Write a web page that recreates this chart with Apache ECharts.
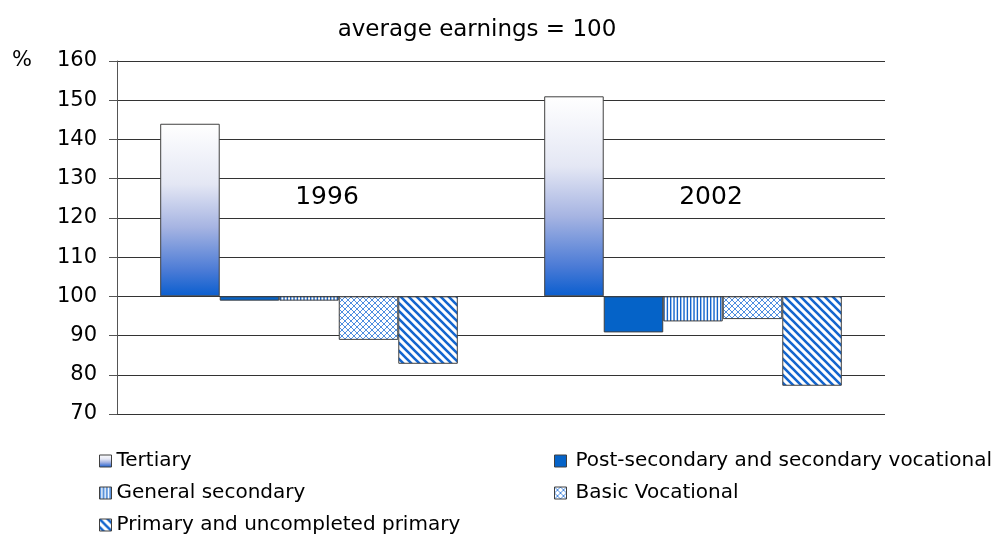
<!DOCTYPE html>
<html>
<head>
<meta charset="utf-8">
<script src="https://cdn.jsdelivr.net/npm/echarts@6/dist/echarts.min.js"></script>
<style>
html,body{margin:0;padding:0;background:#fff;}
#chart{width:1002px;height:537px;}
</style>
</head>
<body>
<div id="chart"></div>
<script>
// ---- data ----
var categories = ['1996', '2002'];
var seriesNames = ['Tertiary', 'Post-secondary and secondary vocational', 'General secondary', 'Basic Vocational', 'Primary and uncompleted primary'];
var tertiary = [144, 151];
var postSecondary = [98.9, 90.8];
var generalSecondary = [98.9, 93.6];
var basicVocational = [88.9, 94.2];
var primary = [82.8, 77.2];
var baseline = 100;
var yMin = 70, yMax = 160, yStep = 10;
var titleText = 'average earnings = 100';
var yUnit = '%';

// ---- patterns ----
function makeCanvas(w, h, draw) {
  var c = document.createElement('canvas');
  c.width = w; c.height = h;
  var ctx = c.getContext('2d');
  ctx.fillStyle = '#ffffff';
  ctx.fillRect(0, 0, w, h);
  draw(ctx, w, h);
  return c;
}
var vStripes = makeCanvas(10, 10, function (ctx) {
  ctx.fillStyle = '#1565cc';
  [0, 3.33, 6.67].forEach(function (x) { ctx.fillRect(x, 0, 1.4, 10); });
});
var crossHatch = makeCanvas(6, 6, function (ctx) {
  ctx.strokeStyle = '#4f8ee0';
  ctx.lineWidth = 1;
  ctx.beginPath();
  ctx.moveTo(-1, -1); ctx.lineTo(7, 7);
  ctx.moveTo(-1, 7); ctx.lineTo(7, -1);
  ctx.stroke();
});
var diagStripes = makeCanvas(8, 8, function (ctx) {
  ctx.strokeStyle = '#1466cf';
  ctx.lineWidth = 2.6;
  ctx.beginPath();
  ctx.moveTo(-1, -1); ctx.lineTo(9, 9);
  ctx.moveTo(-9, -1); ctx.lineTo(1, 9);
  ctx.moveTo(7, -1); ctx.lineTo(17, 9);
  ctx.stroke();
});

var fills = [
  new echarts.graphic.LinearGradient(0, 0, 0, 1, [
    {offset: 0, color: '#ffffff'},
    {offset: 0.35, color: '#e4e7f4'},
    {offset: 0.6, color: '#a6b4e2'},
    {offset: 0.85, color: '#4b7bd6'},
    {offset: 1, color: '#0a5ecf'}
  ]),
  '#0563c8',
  {image: vStripes, repeat: 'repeat'},
  {image: crossHatch, repeat: 'repeat'},
  {image: diagStripes, repeat: 'repeat'}
];
var values = [tertiary, postSecondary, generalSecondary, basicVocational, primary];

var FONT = 'DejaVu Sans';
var series = seriesNames.map(function (n, i) {
  return {
    name: n,
    type: 'bar',
    barGap: '0%',
    barCategoryGap: '22.5%',
    data: values[i].map(function (v) { return +(v - baseline).toFixed(2); }),
    itemStyle: {color: fills[i], borderColor: '#404040', borderWidth: 1},
    emphasis: {disabled: true}
  };
});

var legendCommon = {
  orient: 'vertical', top: 451, height: 100, padding: 0,
  itemWidth: 12, itemHeight: 12, itemGap: 12,
  icon: 'rect',
  selectedMode: false,
  itemStyle: {borderColor: '#404040', borderWidth: 1}
};

var chart = echarts.init(document.getElementById('chart'), null, {renderer: 'canvas'});
chart.setOption({
  animation: false,
  backgroundColor: '#ffffff',
  textStyle: {fontFamily: FONT},
  title: {
    text: titleText,
    left: 472, top: 14,
    textAlign: 'center',
    textStyle: {fontFamily: FONT, fontSize: 23, fontWeight: 'normal', color: '#000'}
  },
  grid: {left: 117, right: 117, top: 61, bottom: 123, containLabel: false},
  legend: [
    Object.assign({}, legendCommon, {
      data: [seriesNames[0], seriesNames[2], seriesNames[4]],
      left: 99,
      textStyle: {fontFamily: FONT, fontSize: 20, color: '#000', lineHeight: 20}
    }),
    Object.assign({}, legendCommon, {
      data: [seriesNames[1], seriesNames[3]],
      left: 554,
      textStyle: {fontFamily: FONT, fontSize: 20, color: '#000', lineHeight: 20, padding: [0, 0, 0, 4]}
    })
  ],
  xAxis: {
    type: 'category',
    data: categories,
    axisLine: {show: false, onZero: false},
    axisTick: {show: false},
    splitLine: {show: false},
    axisLabel: {
      show: true,
      margin: -217,
      verticalAlign: 'middle',
      padding: [0, 0, 0, 36],
      fontFamily: FONT, fontSize: 25, color: '#000'
    }
  },
  yAxis: {
    type: 'value',
    min: yMin - baseline,
    max: yMax - baseline,
    interval: yStep,
    name: yUnit,
    nameLocation: 'end',
    nameGap: 0,
    nameTextStyle: {fontFamily: FONT, fontSize: 21, color: '#000', align: 'right', verticalAlign: 'middle', padding: [0, 85, 0, 0]},
    axisLine: {show: true, lineStyle: {color: '#555', width: 1}},
    axisTick: {show: true, length: 8, lineStyle: {color: '#555'}},
    axisLabel: {
      margin: 20,
      fontFamily: FONT, fontSize: 21, color: '#000',
      formatter: function (v) { return String(Math.round(v + baseline)); }
    },
    splitLine: {show: true, lineStyle: {color: '#333', width: 1}}
  },
  series: series
});
</script>
</body>
</html>
